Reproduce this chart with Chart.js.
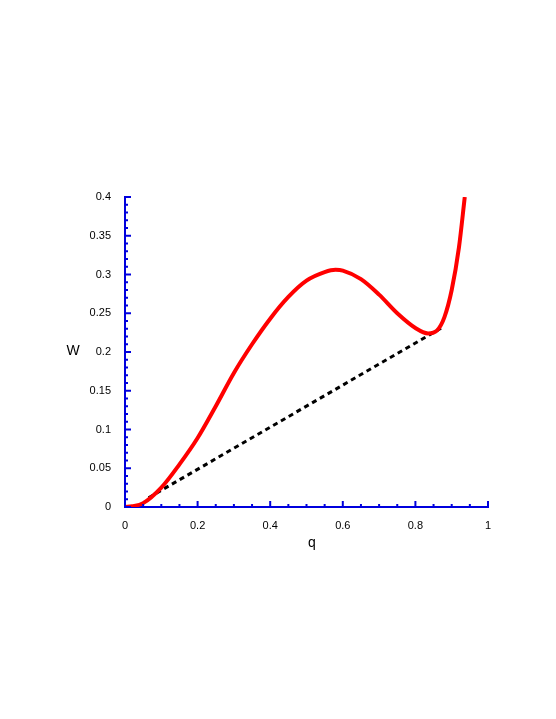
<!DOCTYPE html>
<html><head><meta charset="utf-8">
<script src="https://cdn.jsdelivr.net/npm/chart.js@4"></script>
<style>html,body{margin:0;padding:0;background:#fff}#w{width:556px;height:719px}</style>
</head><body><div id="w"><canvas id="c"></canvas></div>
<script>
const curveQ = [0,0.02,0.05,0.1,0.15,0.2,0.25,0.3,0.35,0.4,0.45,0.5,0.55,0.58,0.6,0.65,0.7,0.75,0.8,0.835,0.86,0.88,0.9,0.92,0.936];
const curveW = [0,0.001,0.005,0.025,0.055,0.089,0.13,0.173,0.21,0.243,0.271,0.292,0.303,0.306,0.305,0.294,0.274,0.25,0.231,0.224,0.228,0.245,0.28,0.335,0.4];
const tangentQ = [0.065,0.875];
const tangentW = [0.012,0.232];
const xTicks = [0,0.2,0.4,0.6,0.8,1];
const yTicks = [0,0.05,0.1,0.15,0.2,0.25,0.3,0.35,0.4];
const BLUE = '#0000dd';
const tickPlugin = {
  id:'ticks',
  afterDraw(chart){
    const {ctx,scales:{x,y}} = chart;
    ctx.save(); ctx.strokeStyle=BLUE; ctx.lineWidth=2;
    const yb=y.getPixelForValue(0), xl=x.getPixelForValue(0);
    for(let i=0;i<=20;i++){const v=i*0.05;const p=x.getPixelForValue(v);const L=(i%4===0)?6:3;
      ctx.beginPath();ctx.moveTo(p,yb);ctx.lineTo(p,yb-L);ctx.stroke();}
    for(let i=0;i<=40;i++){const v=i*0.01;const p=y.getPixelForValue(v);const L=(i%5===0)?6:3;
      ctx.beginPath();ctx.moveTo(xl,p);ctx.lineTo(xl+L,p);ctx.stroke();}
    ctx.fillStyle='#000';ctx.font='14px "Liberation Sans", Arial';ctx.textAlign='center';ctx.textBaseline='middle';
    ctx.fillText('W',73,351);ctx.fillText('q',312,543);
    ctx.restore();
  }
};
new Chart(document.getElementById('c'),{
  type:'scatter',
  data:{datasets:[
    {data:curveQ.map((q,i)=>({x:q,y:curveW[i]})),showLine:true,borderColor:'#ff0000',borderWidth:4,pointRadius:0,cubicInterpolationMode:'monotone'},
    {data:tangentQ.map((q,i)=>({x:q,y:tangentW[i]})),showLine:true,borderColor:'#000',borderWidth:3,borderDash:[5,4],pointRadius:0}
  ]},
  options:{responsive:true,maintainAspectRatio:false,animation:false,
    layout:{padding:{left:0,top:197,right:68,bottom:0}},
    plugins:{legend:{display:false},tooltip:{enabled:false}},
    scales:{
      x:{type:'linear',min:0,max:1,afterFit(s){s.height=212;},
        afterBuildTicks(s){s.ticks=xTicks.map(v=>({value:v}));},
        grid:{display:false},border:{display:true,color:BLUE,width:2},
        ticks:{color:'#000',font:{size:11,family:'"Liberation Sans", Arial'},padding:4,maxRotation:0,callback:v=>String(Number(v.toFixed(2)))}},
      y:{type:'linear',min:0,max:0.4,afterFit(s){s.width=125;},
        afterBuildTicks(s){s.ticks=yTicks.map(v=>({value:v}));},
        grid:{display:false},border:{display:true,color:BLUE,width:2},
        ticks:{color:'#000',font:{size:11,family:'"Liberation Sans", Arial'},padding:6,callback:v=>String(Number(v.toFixed(2)))}}
    }},
  plugins:[tickPlugin]
});
</script></body></html>
